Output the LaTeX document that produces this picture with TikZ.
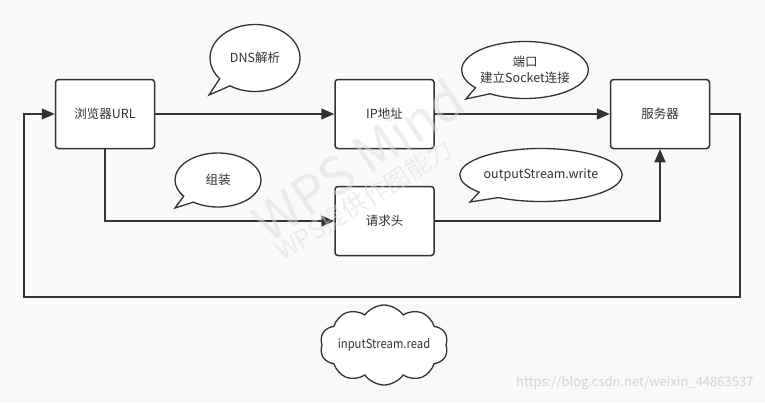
\documentclass[tikz,border=0pt]{standalone}
\usepackage{fontspec}
\setmainfont{Noto Sans CJK SC}
\usetikzlibrary{arrows.meta,shapes.callouts,shapes.symbols,shapes.geometric}
\definecolor{bg}{HTML}{F9F9F9}
\definecolor{ln}{HTML}{333333}
\definecolor{wm}{HTML}{DCDCDC}
\definecolor{urlc}{HTML}{D4D4D4}
\begin{document}
\begin{tikzpicture}[x=1pt,y=-1pt,
  txt/.style={font=\fontsize{12.5}{16}\selectfont,text=ln},
  box/.style={txt,draw=ln,line width=1.5pt,fill=white,rounded corners=3pt,minimum width=99pt,minimum height=69pt,inner sep=0pt},
  conn/.style={draw=ln,line width=1.5pt,-{Triangle[length=13pt,width=11pt]}},
  bubble/.style={txt,ellipse callout,draw=ln,line width=1.3pt,fill=white,inner sep=0pt,align=center,callout pointer arc=18}]
\fill[bg] (0,0) rectangle (765,402);
\useasboundingbox (0,0) rectangle (765,402);

\node[box] (url) at (105,114) {浏览器URL};
\node[box] (ip)  at (384.5,114) {IP地址};
\node[box] (srv) at (660,114) {服务器};
\node[box] (req) at (384.5,221) {请求头};

\coordinate (c1) at (740,297);
\coordinate (c2) at (24,297);
\draw[conn] (url) -- (ip);
\draw[conn] (ip) -- (srv);
\draw[conn] (url.south) |- (req.west);
\draw[conn] (req.east) -| (srv.south);
\draw[conn] (srv.east) -| (c1) -- (c2) |- (url.west);

\coordinate (p1) at (209,95);
\coordinate (p2) at (175,208);
\coordinate (p3) at (466,99);
\coordinate (p4) at (470,202);
\node[bubble,minimum width=90pt,minimum height=67pt,callout absolute pointer={(p1)}] (dns) at (255,58) {DNS解析};
\node[bubble,minimum width=86pt,minimum height=54pt,callout absolute pointer={(p2)}] (zz) at (218,180) {组装};
\node[bubble,minimum width=117pt,minimum height=57pt,callout absolute pointer={(p3)}] (sock) at (525,70) {端口\\建立Socket连接};
\node[bubble,minimum width=143pt,minimum height=53pt,callout absolute pointer={(p4)}] (out) at (541,175) {outputStream.write};

\node[cloud,cloud puffs=10,cloud puff arc=110,cloud ignores aspect,draw=ln,line width=1.3pt,fill=white,minimum width=128pt,minimum height=80pt,inner sep=0pt] (cl) at (384,345) {};
\node[txt,inner sep=0pt] (cltxt) at (cl.center) {\scalebox{0.9}[1]{inputStream.read}};

\node[text=wm,opacity=0.5,font=\fontsize{52}{60}\selectfont,rotate=34] (wm1) at (358,160) {WPS Mind};
\node[text=wm,opacity=0.5,font=\fontsize{25}{30}\selectfont,rotate=32] (wm2) at (364,200) {WPS提供作图能力};
\node[text=urlc,font=\fontsize{13}{15}\selectfont,anchor=east] (csdn) at (757,383) {https://blog.csdn.net/weixin\_44863537};
\end{tikzpicture}
\end{document}
